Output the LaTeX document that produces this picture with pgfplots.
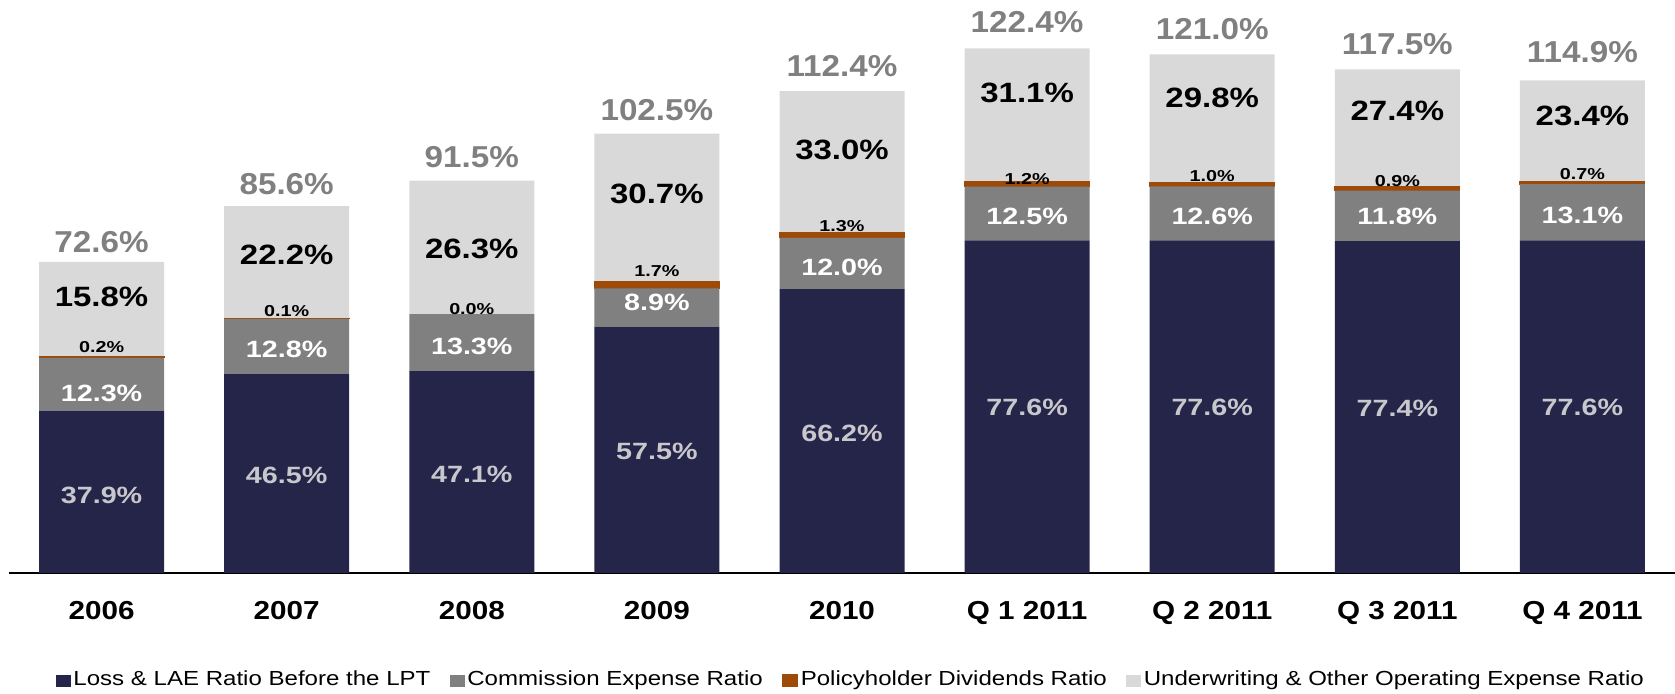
\documentclass[border=0pt]{standalone}
\usepackage{pgfplots}
\pgfplotsset{compat=1.18}
\usepackage{pgfplotstable}
\usepackage{fontspec}
\setmainfont{Liberation Sans}
\newfontfamily\segfont[FakeStretch=1.22]{Liberation Sans}
\newfontfamily\uwfont[FakeStretch=1.18]{Liberation Sans}
\newfontfamily\smallfont[FakeStretch=1.25]{Liberation Sans}
\newfontfamily\totfont[FakeStretch=1.1]{Liberation Sans}
\newfontfamily\tickfont[FakeStretch=1.14]{Liberation Sans}
\newfontfamily\legfont[FakeStretch=1.18]{Liberation Sans}

\definecolor{navy}{RGB}{37,37,74}
\definecolor{commgray}{RGB}{128,128,128}
\definecolor{divorange}{RGB}{158,74,8}
\definecolor{uwgray}{RGB}{217,217,217}
\definecolor{darktext}{RGB}{200,200,204}

% drawn segment heights (underwriting = total - other segments)
\pgfplotstableread{
x loss comm div uw
0 37.9 12.3 0.2 22.2
1 46.5 12.8 0.1 26.2
2 47.1 13.3 0.0 31.1
3 57.5 8.9 1.7 34.4
4 66.2 12.0 1.3 32.9
5 77.6 12.5 1.2 31.1
6 77.6 12.6 1.0 29.8
7 77.4 11.8 0.9 27.4
8 77.6 13.1 0.7 23.5
}\bars

% label positions and label texts
\pgfplotstableread{
x lossy lt commy ct divy dt uwy ut toty tt
0 18.2 37.9 41.8 12.3 52.7 0.2 64.5 15.8 77.3 72.6
1 22.8 46.5 52.2 12.8 61.0 0.1 74.3 22.2 90.8 85.6
2 22.9 47.1 52.8 13.3 61.5 0.0 75.7 26.3 97.0 91.5
3 28.4 57.5 63.1 8.9 70.4 1.7 88.4 30.7 108.0 102.5
4 32.6 66.2 71.3 12.0 80.9 1.3 98.7 33.0 118.2 112.4
5 38.6 77.6 83.3 12.5 92.0 1.2 112.1 31.1 128.4 122.4
6 38.6 77.6 83.3 12.6 92.6 1.0 110.8 29.8 126.9 121.0
7 38.5 77.4 83.3 11.8 91.5 0.9 107.7 27.4 123.4 117.5
8 38.6 77.6 83.3 13.1 93.1 0.7 106.6 23.4 121.4 114.9
}\labels

\pgfplotsset{
  frame/.style={
    scale only axis, width=16.66cm, height=5.5cm,
    at={(0.09cm,1.20cm)}, anchor=south west,
    xmin=-0.5, xmax=8.5, ymin=0, ymax=128.3,
    clip=false
  },
  lbl/.style={
    only marks, mark=*, mark size=0pt, mark options={draw=none, fill=none},
    point meta=explicit symbolic,
    nodes near coords={\pgfplotspointmeta\%},
    every node near coord/.append style={anchor=center, inner sep=0pt, #1}
  }
}

\begin{document}
\begin{tikzpicture}
\begin{axis}[
  frame,
  ybar stacked, bar width=1.25cm,
  axis x line*=bottom, axis y line=none,
  x axis line style={line width=0.85pt, black},
  xtick={0,...,8},
  xticklabels={2006,2007,2008,2009,2010,Q 1 2011,Q 2 2011,Q 3 2011,Q 4 2011},
  major tick length=0pt,
  xticklabel style={font=\tickfont\bfseries\fontsize{7.4}{8}\selectfont, anchor=base, yshift=-0.463cm},
  legend columns=4,
  legend style={at={(0.0282,-0.196)}, anchor=west, draw=none, fill=none,
    inner sep=0pt, outer sep=0pt,
    font=\legfont\fontsize{5.8}{7}\selectfont,
    nodes={inner xsep=0.7pt, inner ysep=1pt},
    /tikz/every even column/.append style={column sep=0.17cm}},
  legend image code/.code={\fill[#1] (0cm,-0.06cm) rectangle (0.15cm,0.06cm);},
]
\addplot[fill=navy, draw=none] table[x=x, y=loss] {\bars};
\addplot[fill=commgray, draw=none] table[x=x, y=comm] {\bars};
\addplot[fill=divorange, draw=divorange, line width=0.3pt] table[x=x, y=div] {\bars};
\addplot[fill=uwgray, draw=none] table[x=x, y=uw] {\bars};
\legend{Loss \& LAE Ratio Before the LPT, Commission Expense Ratio,
  Policyholder Dividends Ratio, Underwriting \& Other Operating Expense Ratio}
\end{axis}

\begin{axis}[frame, hide axis]
\addplot[lbl={font=\segfont\bfseries\fontsize{6.7}{8}\selectfont, text=darktext}]
  table[x=x, y=lossy, meta=lt] {\labels};
\addplot[lbl={font=\segfont\bfseries\fontsize{6.7}{8}\selectfont, text=white}]
  table[x=x, y=commy, meta=ct] {\labels};
\addplot[lbl={font=\smallfont\bfseries\fontsize{4.5}{5}\selectfont, text=black}]
  table[x=x, y=divy, meta=dt] {\labels};
\addplot[lbl={font=\uwfont\bfseries\fontsize{7.95}{9}\selectfont, text=black}]
  table[x=x, y=uwy, meta=ut] {\labels};
\addplot[lbl={font=\totfont\bfseries\fontsize{8.6}{10}\selectfont, text=commgray}]
  table[x=x, y=toty, meta=tt] {\labels};
\end{axis}
\pgfresetboundingbox
\path[use as bounding box] (0,0) rectangle (16.75cm,6.93cm);
\end{tikzpicture}
\end{document}
